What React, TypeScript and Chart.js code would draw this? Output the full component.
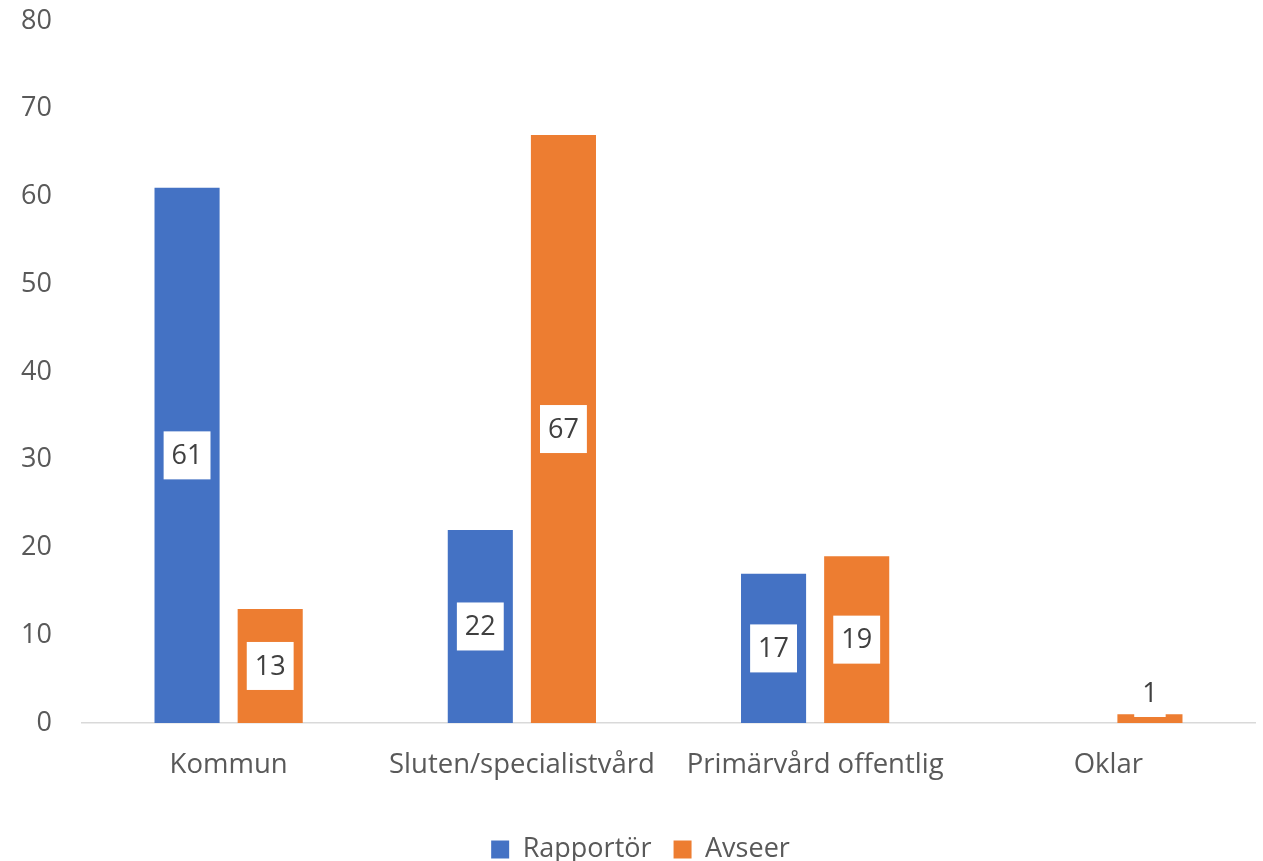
import React, { useEffect, useRef } from "react";
import { Chart, registerables } from "chart.js";

Chart.register(...registerables);

const categories = ["Kommun", "Sluten/specialistvård", "Primärvård offentlig", "Oklar"];
const rapportor = [61, 22, 17, 0];
const avseer = [13, 67, 19, 1];
const seriesNames = ["Rapportör", "Avseer"];

const FONT = "'Open Sans', 'DejaVu Sans', sans-serif";
const AXIS_COLOR = "#595959";

const labelPlugin = {
  id: "boxedLabels",
  afterDatasetsDraw(chart: any) {
    const ctx = chart.ctx;
    ctx.save();
    ctx.font = `27px ${FONT}`;
    ctx.textAlign = "center";
    ctx.textBaseline = "middle";
    chart.data.datasets.forEach((ds: any, di: number) => {
      const meta = chart.getDatasetMeta(di);
      meta.data.forEach((bar: any, i: number) => {
        const v = ds.data[i];
        if (!v) return;
        const text = String(v);
        const w = ctx.measureText(text).width + 16;
        const h = 48;
        let cy = (bar.y + bar.base) / 2;
        if (cy + h / 2 > bar.base - 6) cy = Math.min(cy, bar.base - 6 - h / 2);
        ctx.fillStyle = "#ffffff";
        ctx.fillRect(bar.x - w / 2, cy - h / 2, w, h);
        ctx.fillStyle = "#404040";
        ctx.fillText(text, bar.x, cy + 1);
      });
    });
    ctx.restore();
  },
};

const legendShift = {
  id: "legendShift",
  afterLayout(chart: any) {
    if (chart.legend) {
      chart.legend.left += 13;
      chart.legend.right += 13;
    }
  },
};

export default function App() {
  const ref = useRef<HTMLCanvasElement | null>(null);
  useEffect(() => {
    if (!ref.current) return;
    const chart = new Chart(ref.current, {
      type: "bar",
      data: {
        labels: categories,
        datasets: [
          { label: seriesNames[0], data: rapportor, backgroundColor: "#4472C4" },
          { label: seriesNames[1], data: avseer, backgroundColor: "#ED7D31" },
        ],
      },
      plugins: [labelPlugin, legendShift],
      options: {
        animation: false,
        responsive: true,
        maintainAspectRatio: false,
        layout: { padding: { top: 21, right: 8, bottom: -12, left: 0 } },
        datasets: {
          bar: { categoryPercentage: 0.567, barPercentage: 0.783 },
        },
        scales: {
          x: {
            grid: { display: false, drawTicks: false },
            border: { display: true, color: "#d9d9d9", width: 1.5 },
            ticks: { color: AXIS_COLOR, font: { family: FONT, size: 27.5 }, padding: 26 },
            afterFit(scale: any) {
              scale.height = 91;
            },
          },
          y: {
            min: 0,
            max: 80,
            grid: { display: false, drawTicks: false },
            border: { display: false },
            ticks: { stepSize: 10, color: AXIS_COLOR, font: { family: FONT, size: 27 }, padding: 30 },
            afterFit(scale: any) {
              scale.width = 82;
              scale.paddingTop = 0;
              scale.paddingBottom = 0;
            },
          },
        },
        plugins: {
          tooltip: { enabled: false },
          legend: {
            position: "bottom",
            labels: {
              color: AXIS_COLOR,
              font: { family: FONT, size: 27 },
              boxWidth: 18,
              boxHeight: 18,
              padding: 22,
            },
          },
        },
      },
    });
    return () => chart.destroy();
  }, []);
  return (
    <div style={{ position: "fixed", left: 0, top: 0, width: 1263, height: 861, background: "#fff" }}>
      <canvas ref={ref} />
    </div>
  );
}
